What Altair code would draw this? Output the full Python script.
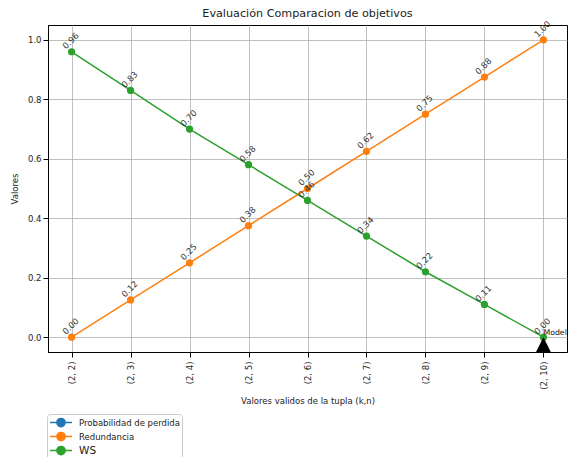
import altair as alt
import pandas as pd

# Valid (k, n) tuples on the x axis
tuplas = ["(2, 2)", "(2, 3)", "(2, 4)", "(2, 5)", "(2, 6)", "(2, 7)", "(2, 8)", "(2, 9)", "(2, 10)"]

# Objective values per tuple
redundancia = [0.0, 0.125, 0.25, 0.375, 0.5, 0.625, 0.75, 0.875, 1.0]
ws = [0.96, 0.83, 0.70, 0.58, 0.46, 0.34, 0.22, 0.11, 0.0]

series = ["Probabilidad de perdida", "Redundancia", "WS"]
colores = ["#1f77b4", "#ff7f0e", "#2ca02c"]

# Selected model marker
modelo_tupla = "(2, 10)"
modelo_valor = -0.027
modelo_texto = "Model"

rows = []
for name, vals in (("Redundancia", redundancia), ("WS", ws)):
    for t, v in zip(tuplas, vals):
        rows.append({"tupla": t, "valor": v, "serie": name, "etiqueta": f"{v:.2f}"})
df = pd.DataFrame(rows)

modelo = pd.DataFrame([{"tupla": modelo_tupla, "valor": modelo_valor, "texto": modelo_texto, "ws": ws[-1]}])

x_enc = alt.X(
    "tupla:O",
    scale=alt.Scale(type="point", padding=0.4, domain=tuplas),
    axis=alt.Axis(
        title="Valores validos de la tupla (k,n)",
        labelAngle=270,
        labelAlign="right",
        labelBaseline="middle",
        labelPadding=4,
        titlePadding=7,
    ),
)
y_enc = alt.Y(
    "valor:Q",
    scale=alt.Scale(domain=[-0.05, 1.05], nice=False, zero=False),
    axis=alt.Axis(title="Valores", values=[0, 0.2, 0.4, 0.6, 0.8, 1.0], format=".1f", titlePadding=8),
)
color_enc = alt.Color(
    "serie:N",
    scale=alt.Scale(domain=series, range=colores),
    legend=alt.Legend(
        title=None,
        orient="none",
        legendX=-1,
        legendY=389,
        # short line with a dot in the middle
        symbolType="M-2,0H2M0.75,0A0.75,0.75 0 1,1 -0.75,0A0.75,0.75 0 1,1 0.75,0Z",
        symbolSize=121,
        symbolStrokeWidth=1.5,
        symbolOffset=5.5,
        symbolStrokeColor=alt.ExprRef("scale('color', datum.value)"),
        symbolFillColor=alt.ExprRef("scale('color', datum.value)"),
        symbolOpacity=1,
        labelFontSize=alt.ExprRef("datum.label === 'WS' ? 10.5 : 8.5"),
        labelColor="#222222",
        labelOffset=11.5,
        rowPadding=-1,
        padding=2,
        strokeColor="#cccccc",
        fillColor="white",
        cornerRadius=3,
    ),
)

base = alt.Chart(df)

lineas = base.mark_line(strokeWidth=1.5).encode(x=x_enc, y=y_enc, color=color_enc)
puntos = base.mark_circle(size=52, opacity=1).encode(x=x_enc, y="valor:Q", color=alt.Color("serie:N", legend=None))
etiquetas = base.mark_text(
    angle=315, align="center", baseline="middle", dx=7, dy=-8.5, fontSize=8.5, color="#333333"
).encode(x=x_enc, y="valor:Q", text="etiqueta:N")

triangulo = alt.Chart(modelo).mark_point(
    shape="M0,-1L-1,1L1,1Z", size=256, filled=True, color="black", opacity=1, clip=True
).encode(x=x_enc, y="valor:Q")
texto_modelo = alt.Chart(modelo).mark_text(
    align="left", baseline="middle", dx=0, dy=-4, fontSize=7.8, color="#111111"
).encode(x=x_enc, y=alt.Y("ws:Q"), text="texto:N")

chart = (
    alt.layer(lineas, puntos, etiquetas, triangulo, texto_modelo)
    .resolve_scale(color="shared")
    .properties(
        width=519,
        height=327,
        padding={"left": 48, "top": 25, "right": 4, "bottom": 105},
        autosize=alt.AutoSizeParams(type="none"),
        title=alt.TitleParams(
            "Evaluación Comparacion de objetivos", fontSize=11.2, fontWeight="normal", offset=0, color="#222222"
        ),
    )
    .configure(font="DejaVu Sans")
    .configure_view(stroke="black", strokeWidth=1)
    .configure_axis(
        grid=True,
        gridColor="#b0b0b0",
        gridWidth=0.8,
        gridOpacity=1,
        domainColor="black",
        tickColor="black",
        tickSize=5,
        labelFontSize=8.5,
        labelColor="#222222",
        titleFontSize=8.5,
        titleFontWeight="normal",
        titleColor="#222222",
    )
)

chart.save("out.html", embed_options={"renderer": "svg", "actions": False})
